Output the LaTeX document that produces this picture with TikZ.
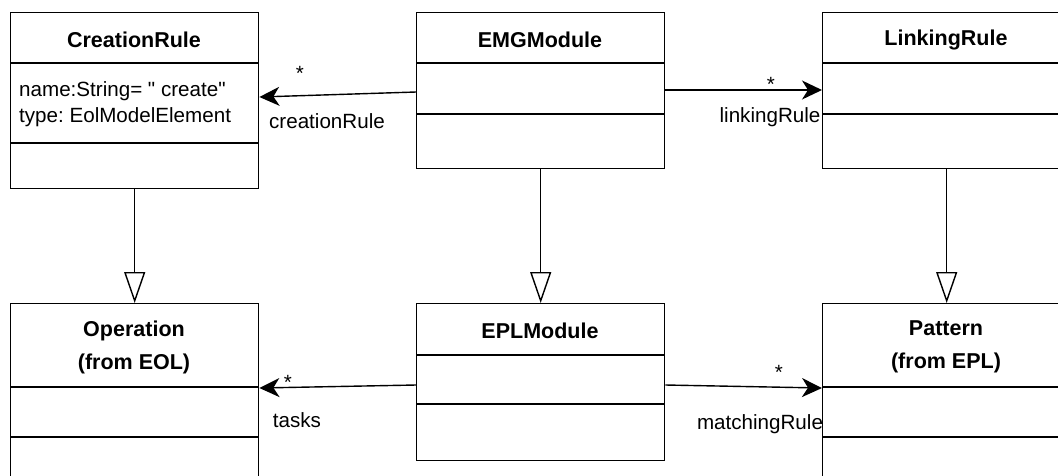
\documentclass[tikz,border=0pt]{standalone}
\usepackage{fontspec}
\setmainfont{Liberation Sans}
% plain family without TeX ligature mapping, so " stays a straight quote
\newfontfamily\attrfont{Liberation Sans}
\usetikzlibrary{arrows.meta}
\frenchspacing
\begin{document}
\begin{tikzpicture}[x=1pt,y=-1pt,
  classbox/.style={draw, line width=1.4pt, minimum width=248pt, anchor=north west, inner sep=0pt},
  divider/.style={line width=1.4pt},
  title/.style={font=\fontsize{21.5}{33}\selectfont\bfseries, align=center, inner sep=0pt},
  attr/.style={font=\attrfont\fontsize{20.6}{24}\selectfont, anchor=base west, inner sep=0pt},
  lbl/.style={font=\fontsize{20.6}{24}\selectfont, anchor=base, inner sep=0pt},
  assoc/.style={line width=1.4pt, -{Stealth[length=20pt,width=19pt,inset=6pt]}},
  gen/.style={line width=1.4pt, -{Triangle[length=31pt,width=21pt,fill=white]}}]
\useasboundingbox (0,0) rectangle (1058,475);
\clip (0,0) rectangle (1058,475);

% class boxes
\node[classbox, minimum height=176pt] (cr)  at (10,12)  {};
\node[classbox, minimum height=156pt] (emg) at (416,12) {};
\node[classbox, minimum height=156pt] (lr)  at (822,12) {};
\node[classbox, minimum height=200pt] (op)  at (10,303) {};
\node[classbox, minimum height=157pt] (epl) at (416,303) {};
\node[classbox, minimum height=200pt] (pat) at (822,303) {};

% compartments
\draw[divider] (cr.west |- 0,63)   -- (cr.east |- 0,63);
\draw[divider] (cr.west |- 0,143)  -- (cr.east |- 0,143);
\draw[divider] (emg.west |- 0,63)  -- (emg.east |- 0,63);
\draw[divider] (emg.west |- 0,114) -- (emg.east |- 0,114);
\draw[divider] (lr.west |- 0,63)   -- (lr.east |- 0,63);
\draw[divider] (lr.west |- 0,114)  -- (lr.east |- 0,114);
\draw[divider] (op.west |- 0,387)  -- (op.east |- 0,387);
\draw[divider] (op.west |- 0,437)  -- (op.east |- 0,437);
\draw[divider] (epl.west |- 0,355) -- (epl.east |- 0,355);
\draw[divider] (epl.west |- 0,404) -- (epl.east |- 0,404);
\draw[divider] (pat.west |- 0,387) -- (pat.east |- 0,387);
\draw[divider] (pat.west |- 0,437) -- (pat.east |- 0,437);

% class names
\node[title] (crt)  at (134,40)  {CreationRule};
\node[title] (emgt) at (540,40)  {EMGModule};
\node[title] (lrt)  at (946,40)  {LinkingRule};
\node[title] (opt)  at (134,347) {Operation\\(from EOL)};
\node[title] (eplt) at (540,331) {EPLModule};
\node[title] (patt) at (946,347) {Pattern\\(from EPL)};

% attributes
\node[attr] (a1) at (19,96)  {name:String= " create"};
\node[attr] (a2) at (19,122) {type: EolModelElement};

% associations
\draw[assoc] (emg.west |- 0,92)  -- (cr.east |- 0,97);
\draw[assoc] (emg.east |- 0,90)  -- (lr.west |- 0,90);
\draw[assoc] (epl.west |- 0,385) -- (op.east |- 0,388);
\draw[assoc] (epl.east |- 0,385) -- (pat.west |- 0,388);

\node[lbl] (m1) at (300,80)  {*};
\node[lbl] (r1) at (327,128) {creationRule};
\node[lbl] (m2) at (771,91)  {*};
\node[lbl] (r2) at (770,122) {linkingRule};
\node[lbl] (m3) at (288,389) {*};
\node[lbl] (r3) at (297,427) {tasks};
\node[lbl] (m4) at (779,379) {*};
\node[lbl] (r4) at (760,429) {matchingRule};

% generalizations
\draw[gen] (cr.south)  -- (op.north);
\draw[gen] (emg.south) -- (epl.north);
\draw[gen] (lr.south)  -- (pat.north);
\end{tikzpicture}
\end{document}
